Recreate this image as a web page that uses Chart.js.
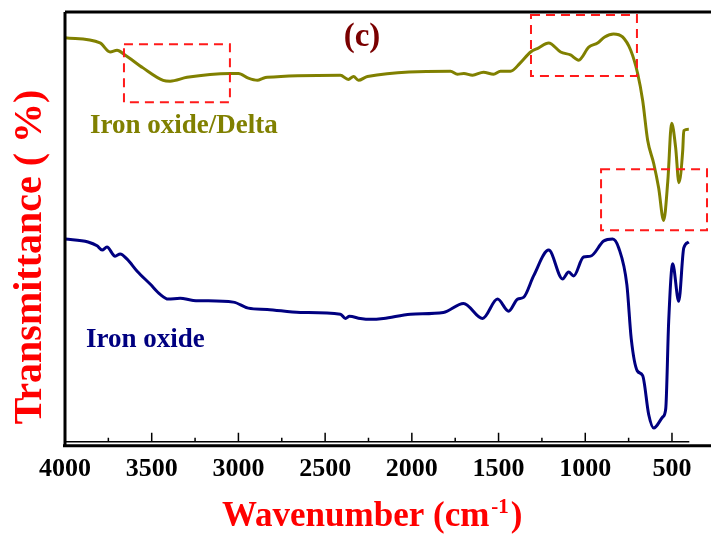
<!DOCTYPE html>
<html>
<head>
<meta charset="utf-8">
<script src="https://cdn.jsdelivr.net/npm/chart.js@4"></script>
<style>
  body { margin: 0; background: #fff; }
  #ftir { position: absolute; left: 0; top: 0; }
</style>
</head>
<body>
<canvas id="ftir" width="711" height="538"></canvas>
<script>
// wavenumber (cm-1) and transmittance (arb. 0-100)
const deltaWavenumbers = [4000, 3798, 3740, 3700, 3654, 3550, 3434, 3394, 3296, 3047, 3000, 2943, 2890, 2857, 2834,
    2412, 2366, 2336, 2308, 2256, 1777, 1737, 1700, 1650, 1587, 1529, 1489, 1431, 1376, 1315, 1271, 1211, 1142,
    1085, 1038, 980, 929, 888, 837, 785, 738, 698, 669, 640, 605, 577, 548, 524, 502, 479, 460, 438, 432, 403];
const deltaTransmittance = [94.0, 92.8, 90.7, 91.1, 90.0, 87.0, 84.1, 83.9, 84.8, 85.7, 85.7, 84.6, 84.1, 84.6, 84.8,
    85.3, 84.3, 85.0, 84.1, 85.0, 86.2, 85.5, 85.7, 85.3, 86.0, 85.5, 86.2, 86.2, 88.1, 90.7, 91.6, 92.8, 90.7,
    90.0, 88.8, 91.8, 92.8, 94.2, 94.9, 94.2, 91.1, 85.7, 79.4, 70.1, 64.7, 59.1, 51.5, 60.7, 74.1, 68.5, 60.3, 67.8, 72.4, 72.7];

const oxideWavenumbers = [4000, 3867, 3815, 3786, 3758, 3711, 3682, 3642, 3584, 3509, 3451, 3405, 3336, 3261, 3030,
    2943, 2834, 2643, 2412, 2383, 2360, 2297, 2239, 2164, 2008, 1818, 1702, 1592, 1506, 1442, 1390, 1356, 1298,
    1211, 1131, 1096, 1067, 1010, 969, 894, 842, 807, 760, 735, 700, 669, 634, 605, 553, 536, 519, 496, 461, 432, 403];
const oxideTransmittance = [47.2, 46.5, 45.6, 44.6, 45.3, 43.2, 43.7, 42.5, 39.7, 36.7, 34.3, 33.2, 33.4, 32.9, 32.5,
    31.1, 30.8, 30.1, 29.7, 28.7, 29.2, 28.7, 28.5, 28.7, 29.7, 30.1, 32.2, 28.7, 33.2, 30.4, 33.2, 33.6, 38.6,
    44.6, 37.9, 39.5, 38.6, 43.0, 43.2, 46.7, 47.2, 45.1, 36.5, 24.0, 16.5, 15.4, 6.3, 3.2, 5.8, 7.7, 28.0, 41.4, 32.7, 45.1, 46.5];

const seriesNames = ['Iron oxide/Delta', 'Iron oxide'];
const xTickLabels = [4000, 3500, 3000, 2500, 2000, 1500, 1000, 500];
const xTickStep = 500;

// highlighted regions: [wn from, wn to, T low, T high]
const highlightBoxes = [
    [3660, 3049, 79.0, 92.5],
    [1313, 702, 85.1, 99.3],
    [909, 298, 49.2, 63.4]
];

const serif = '"Liberation Serif", "Times New Roman", serif';

function toPoints(xs, ys) {
    return xs.map((x, i) => ({ x: x, y: ys[i] }));
}

// frame, inward ticks, dashed boxes and texts
const decorations = {
    id: 'decorations',
    afterDraw(chart) {
        const ctx = chart.ctx;
        const area = chart.chartArea;
        const xs = chart.scales.x;
        const ys = chart.scales.y;
        ctx.save();

        // dashed boxes
        ctx.strokeStyle = '#ff1a1a';
        ctx.lineWidth = 2;
        ctx.setLineDash([9, 6]);
        highlightBoxes.forEach(b => {
            const x1 = xs.getPixelForValue(b[0]);
            const x2 = xs.getPixelForValue(b[1]);
            const y1 = ys.getPixelForValue(b[3]);
            const y2 = ys.getPixelForValue(b[2]);
            ctx.strokeRect(x1, y1, x2 - x1, y2 - y1);
        });
        ctx.setLineDash([]);

        // frame
        ctx.strokeStyle = '#000';
        ctx.lineWidth = 3;
        ctx.beginPath();
        ctx.moveTo(area.left, area.top);
        ctx.lineTo(area.right, area.top);
        ctx.moveTo(area.left, area.top);
        ctx.lineTo(area.left, area.bottom + 5);
        ctx.moveTo(area.left - 2, area.bottom + 4);
        ctx.lineTo(area.right, area.bottom + 4);
        ctx.stroke();
        ctx.lineWidth = 1.5;
        ctx.beginPath();
        ctx.moveTo(area.left, area.bottom);
        ctx.lineTo(xs.getPixelForValue(400), area.bottom);
        ctx.stroke();

        // ticks pointing inward
        ctx.beginPath();
        for (let v = 4000; v >= 500; v -= xTickStep / 2) {
            const px = xs.getPixelForValue(v);
            const len = v % xTickStep === 0 ? 9 : 4;
            ctx.moveTo(px, area.bottom);
            ctx.lineTo(px, area.bottom - len);
        }
        ctx.stroke();

        // panel letter
        ctx.textAlign = 'center';
        ctx.textBaseline = 'alphabetic';
        ctx.fillStyle = '#7a0000';
        ctx.font = 'bold 33px ' + serif;
        ctx.fillText('(c)', 362, 46);

        // series labels
        ctx.textAlign = 'left';
        ctx.font = 'bold 27px ' + serif;
        ctx.fillStyle = '#808000';
        ctx.fillText(seriesNames[0], 90, 133);
        ctx.fillStyle = '#000080';
        ctx.fillText(seriesNames[1], 86, 347);

        // y title
        ctx.fillStyle = '#ff0000';
        ctx.font = 'bold 40px ' + serif;
        ctx.save();
        ctx.translate(41, 257);
        ctx.rotate(-Math.PI / 2);
        ctx.textAlign = 'center';
        ctx.fillText('Transmittance ( %)', 0, 0);
        ctx.restore();

        // x title with superscript
        ctx.textAlign = 'left';
        ctx.font = 'bold 35px ' + serif;
        let tx = 222;
        const base = 526;
        const main = 'Wavenumber (cm';
        ctx.fillText(main, tx, base);
        tx += ctx.measureText(main).width + 2;
        ctx.font = 'bold 21px ' + serif;
        ctx.fillText('-1', tx, base - 13);
        tx += ctx.measureText('-1').width + 2;
        ctx.font = 'bold 35px ' + serif;
        ctx.fillText(')', tx, base);

        ctx.restore();
    }
};

const ctx = document.getElementById('ftir').getContext('2d');
const ftirChart = new Chart(ctx, {
    type: 'line',
    data: {
        datasets: [{
            label: seriesNames[0],
            data: toPoints(deltaWavenumbers, deltaTransmittance),
            borderColor: '#808000',
            borderWidth: 3,
            pointRadius: 0,
            cubicInterpolationMode: 'monotone'
        }, {
            label: seriesNames[1],
            data: toPoints(oxideWavenumbers, oxideTransmittance),
            borderColor: '#000080',
            borderWidth: 3,
            pointRadius: 0,
            cubicInterpolationMode: 'monotone'
        }]
    },
    options: {
        responsive: false,
        animation: false,
        devicePixelRatio: 1,
        layout: { padding: { left: 65, top: 12, right: 0, bottom: 41 } },
        plugins: { legend: { display: false }, tooltip: { enabled: false } },
        scales: {
            x: {
                type: 'linear',
                reverse: true,
                min: 275,
                max: 4000,
                grid: { display: false, drawTicks: false },
                border: { display: false },
                afterBuildTicks: function (scale) {
                    scale.ticks = xTickLabels.map(v => ({ value: v }));
                },
                ticks: {
                    autoSkip: false,
                    padding: 12,
                    color: '#000',
                    maxRotation: 0,
                    font: { family: serif, size: 26, weight: 'bold' },
                    callback: function (value) { return String(value); }
                }
            },
            y: {
                display: false,
                min: 0,
                max: 100
            }
        }
    },
    plugins: [decorations]
});
</script>
</body>
</html>
